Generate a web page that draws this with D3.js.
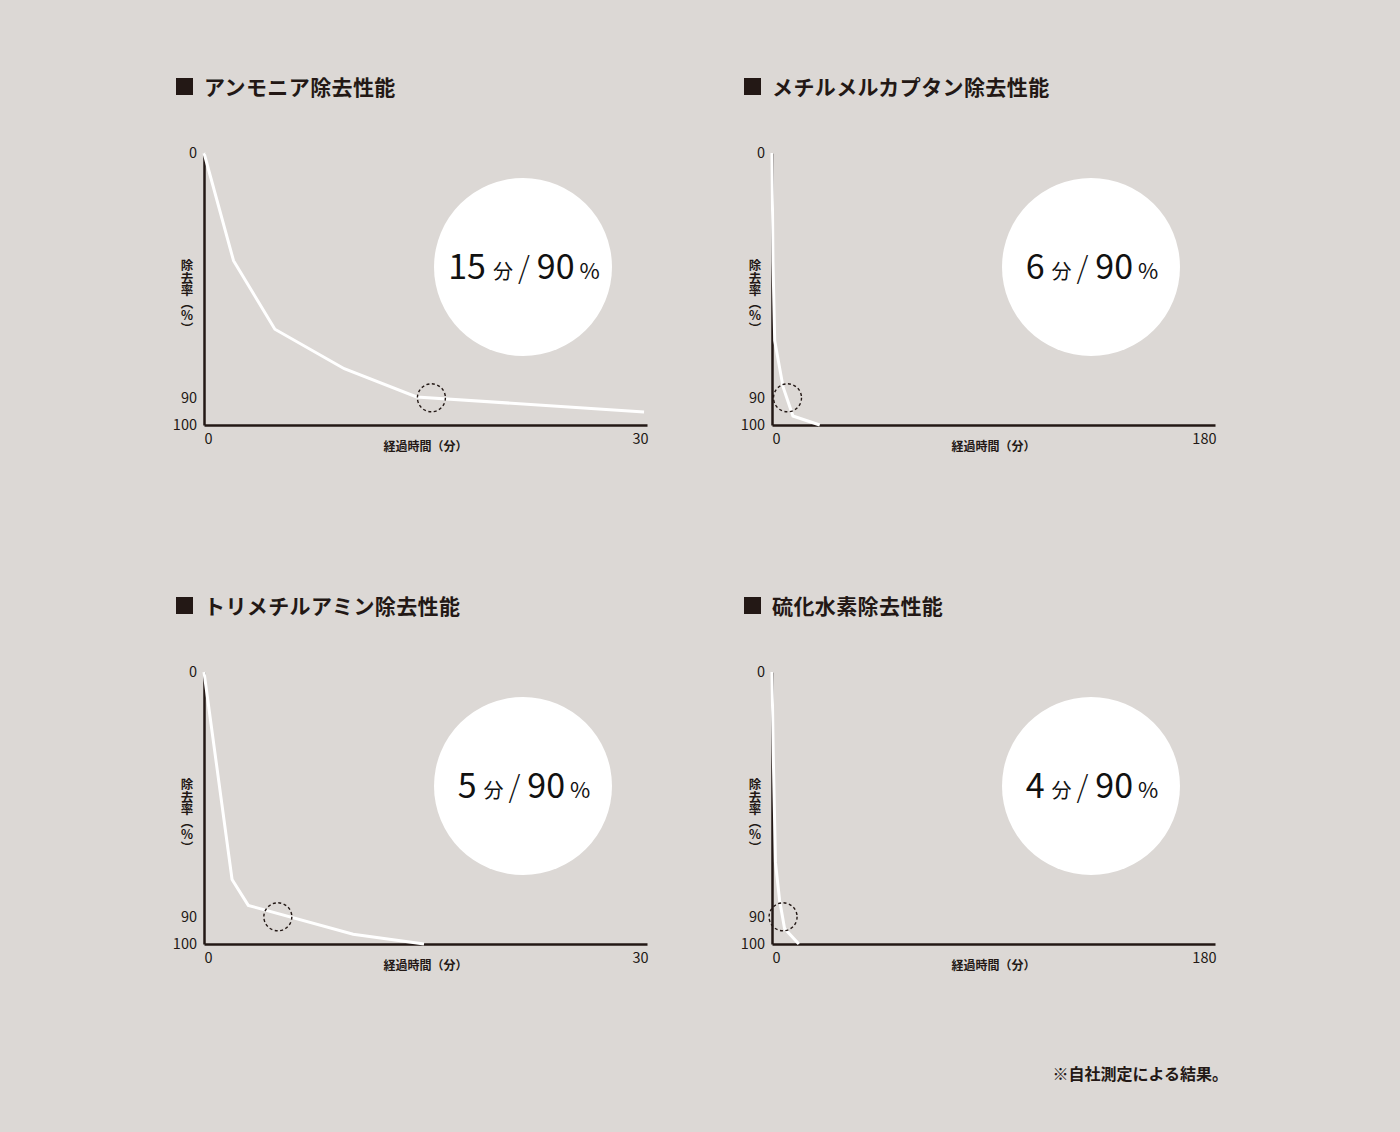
<!DOCTYPE html>
<html lang="ja">
<head>
<meta charset="utf-8">
<script src="https://cdn.jsdelivr.net/npm/d3@7"></script>
<style>
  html, body { margin: 0; padding: 0; background: #dcd8d5; }
  svg { display: block; }
  text { font-family: "Noto Sans CJK JP", "Noto Sans", sans-serif; fill: #231815; }
</style>
</head>
<body>
<script>
// chart data
const titles = ['アンモニア除去性能', 'メチルメルカプタン除去性能', 'トリメチルアミン除去性能', '硫化水素除去性能'];
const timeMax = [30, 180, 30, 180];
const ammonia = [[0, 0], [2, 39.6], [4.8, 64.8], [9.5, 79.3], [14.4, 89.7], [29.8, 95.2]];
const mercaptan = [[0, 0], [0.4, 40], [1.1, 69], [4.5, 86], [8.5, 96.7], [19.4, 100]];
const trimethylamine = [[0, 0], [1.9, 76.3], [3, 85.8], [10.1, 96.4], [14.9, 100]];
const hydrogenSulfide = [[0, 0], [0.5, 30], [1.4, 70], [3.1, 84], [5.1, 94.3], [10.9, 100]];
const series = [ammonia, mercaptan, trimethylamine, hydrogenSulfide];
const markerTime = [15.4, 6.3, 5, 4.5];
const markerRate = [90, 90, 90, 90];
const badgeMinutes = ['15', '6', '5', '4'];
const yTicks = [0, 90, 100];
const xLabel = '経過時間（分）';
const yLabel = '除去率（％）';
const footnote = '※自社測定による結果。';

const width = 1400;
const height = 1132;
const ink = '#231815';

const panelLeft = [204, 772];
const panelTop = [153, 672];
const plotW = 443;
const plotH = 272;

const svg = d3.select('body')
    .append('svg')
    .attr('width', width)
    .attr('height', height);

const drawPanel = (i) => {
    const x0 = panelLeft[i % 2];
    const y0 = panelTop[Math.floor(i / 2)];

    const x = d3.scaleLinear()
        .domain([0, timeMax[i]])
        .range([0, plotW]);

    const y = d3.scaleLinear()
        .domain([0, 100])
        .range([0, plotH]);

    const g = svg.append('g')
        .attr('transform', `translate(${x0},${y0})`);

    // title
    g.append('rect')
        .attr('x', -28)
        .attr('y', -75)
        .attr('width', 17)
        .attr('height', 17)
        .attr('fill', ink);

    g.append('text')
        .attr('x', 0)
        .attr('y', -58)
        .attr('font-size', 21)
        .attr('font-weight', 700)
        .attr('letter-spacing', 0.4)
        .text(titles[i]);

    // badge circle
    const cx = 319;
    const cy = 114;
    g.append('circle')
        .attr('cx', cx)
        .attr('cy', cy)
        .attr('r', 89)
        .attr('fill', '#ffffff');

    const badge = g.append('text')
        .attr('x', cx + 1)
        .attr('y', cy + 12)
        .attr('text-anchor', 'middle')
        .style('fill', '#111');
    badge.append('tspan').attr('font-size', 34).text(badgeMinutes[i]);
    badge.append('tspan').attr('font-size', 20).attr('dx', 7).text('分');
    badge.append('tspan').attr('font-size', 30).attr('dx', 5).attr('font-weight', 300).text('/');
    badge.append('tspan').attr('font-size', 34).attr('dx', 7).text('90');
    badge.append('tspan').attr('font-size', 22).attr('dx', 5).text('%');

    // axes
    const yAxis = g.append('g')
        .call(d3.axisLeft(y).tickValues(yTicks).tickSize(0).tickPadding(7).tickSizeOuter(0));
    yAxis.select('.domain').attr('stroke', ink).attr('stroke-width', 2.5);
    yAxis.selectAll('text')
        .attr('font-size', 14.5)
        .attr('font-family', '"Noto Sans CJK JP", sans-serif')
        .attr('fill', ink);

    const xAxis = g.append('g')
        .attr('transform', `translate(0,${plotH})`)
        .call(d3.axisBottom(x).tickValues([0, timeMax[i]]).tickSize(0).tickPadding(9).tickSizeOuter(0));
    xAxis.select('.domain').attr('stroke', ink).attr('stroke-width', 2.5);
    xAxis.selectAll('text')
        .attr('font-size', 14.5)
        .attr('font-family', '"Noto Sans CJK JP", sans-serif')
        .attr('fill', ink)
        .attr('text-anchor', (d, k) => k === 0 ? 'start' : 'end')
        .attr('dx', (d, k) => k === 0 ? 0 : 1);

    g.append('text')
        .attr('x', plotW / 2)
        .attr('y', plotH + 26)
        .attr('text-anchor', 'middle')
        .attr('font-size', 12)
        .attr('font-weight', 700)
        .text(xLabel);

    g.append('text')
        .attr('x', -17)
        .attr('y', y(39))
        .attr('font-size', 12.5)
        .attr('font-weight', 700)
        .style('writing-mode', 'vertical-rl')
        .text(yLabel);

    // removal curve
    const line = d3.line()
        .x(d => x(d[0]))
        .y(d => y(d[1]));

    g.append('path')
        .datum(series[i])
        .attr('d', line)
        .attr('fill', 'none')
        .attr('stroke', '#ffffff')
        .attr('stroke-width', 3)
        .attr('stroke-linejoin', 'miter');

    // dashed marker at 90%
    g.append('circle')
        .attr('cx', x(markerTime[i]))
        .attr('cy', y(markerRate[i]))
        .attr('r', 14)
        .attr('fill', 'none')
        .attr('stroke', ink)
        .attr('stroke-width', 1.4)
        .attr('stroke-dasharray', '3,2.5');
};

d3.range(4).forEach(drawPanel);

svg.append('text')
    .attr('x', 1228)
    .attr('y', 1080)
    .attr('text-anchor', 'end')
    .attr('font-size', 16)
    .attr('font-weight', 700)
    .text(footnote);
</script>
</body>
</html>
